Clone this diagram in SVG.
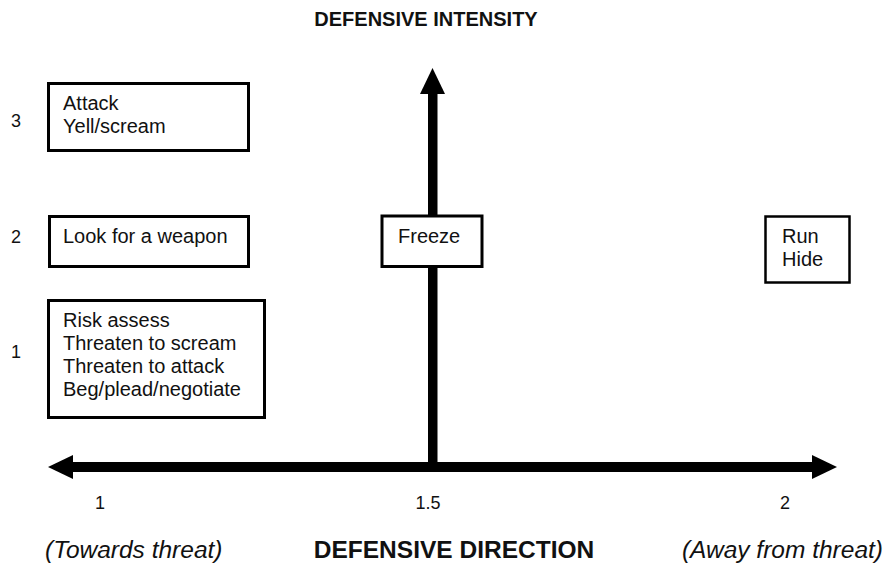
<svg xmlns="http://www.w3.org/2000/svg" width="885" height="566" viewBox="0 0 885 566">
<style>
  text { font-family: "Liberation Sans", Arial, Helvetica, sans-serif; fill: #111; }
  .box { fill: #fff; stroke: #000; stroke-width: 3; }
  .lbl { font-size: 20px; }
  .num { font-size: 18px; }
  .title { font-size: 20px; font-weight: bold; }
  .big { font-size: 24.5px; font-weight: bold; }
  .it { font-size: 24.5px; font-style: italic; }
  .shaft { fill: #000; }
</style>
<rect width="885" height="566" fill="#fff"/>
<g id="connectors">
  <rect class="shaft" x="428" y="90" width="9.5" height="377"/>
  <polygon class="shaft" points="432.5,68 445,94 420,94"/>
  <rect class="shaft" x="70" y="462" width="745" height="10"/>
  <polygon class="shaft" points="48,467 73,455 73,479"/>
  <polygon class="shaft" points="837,467 812,455 812,479"/>
</g>
<text class="title" x="426" y="26" text-anchor="middle">DEFENSIVE INTENSITY</text>
<g id="row-labels">
  <text class="num" x="16" y="127" text-anchor="middle">3</text>
  <text class="num" x="16" y="243" text-anchor="middle">2</text>
  <text class="num" x="16" y="358" text-anchor="middle">1</text>
</g>
<g id="node-attack">
  <rect class="box" x="48.5" y="83.5" width="200" height="67"/>
  <text class="lbl" x="63" y="110">Attack</text>
  <text class="lbl" x="63" y="133">Yell/scream</text>
</g>
<g id="node-weapon">
  <rect class="box" x="49.5" y="216.5" width="199" height="50"/>
  <text class="lbl" x="63" y="243">Look for a weapon</text>
</g>
<g id="node-assess">
  <rect class="box" x="48.5" y="300.5" width="216" height="117"/>
  <text class="lbl" x="63" y="327">Risk assess</text>
  <text class="lbl" x="63" y="350">Threaten to scream</text>
  <text class="lbl" x="63" y="373">Threaten to attack</text>
  <text class="lbl" x="63" y="396">Beg/plead/negotiate</text>
</g>
<g id="node-freeze">
  <rect class="box" x="382" y="216" width="100" height="50.5"/>
  <text class="lbl" x="398" y="243">Freeze</text>
</g>
<g id="node-run">
  <rect class="box" x="765.5" y="216.5" width="84" height="66" style="stroke-width:2.5"/>
  <text class="lbl" x="782" y="243">Run</text>
  <text class="lbl" x="782" y="266">Hide</text>
</g>
<g id="axis-labels">
  <text class="num" x="100" y="509" text-anchor="middle">1</text>
  <text class="num" x="428" y="509" text-anchor="middle">1.5</text>
  <text class="num" x="785" y="509" text-anchor="middle">2</text>
  <text class="it" x="45" y="558">(Towards threat)</text>
  <text class="big" x="454" y="558" text-anchor="middle">DEFENSIVE DIRECTION</text>
  <text class="it" x="883" y="558" text-anchor="end">(Away from threat)</text>
</g>
</svg>
